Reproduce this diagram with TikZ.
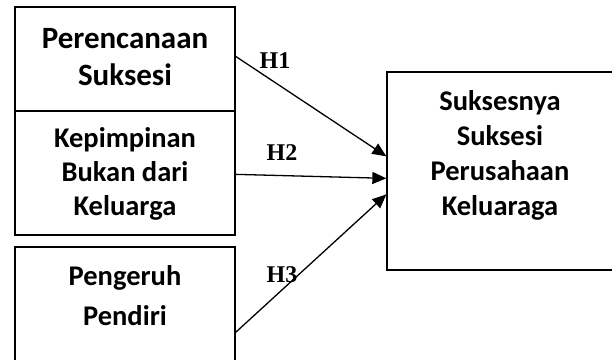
\documentclass[tikz,border=0pt]{standalone}
\usepackage{fontspec}
\setmainfont{Carlito}
\newfontfamily\tnr{Liberation Serif}
\usetikzlibrary{arrows.meta}
\begin{document}
\begin{tikzpicture}[x=1pt,y=-1pt,
  boxstyle/.style={draw=black,line width=1.3pt,minimum width=220pt,inner sep=0pt},
  bigtxt/.style={font=\fontsize{31}{37}\selectfont\bfseries,align=center,inner sep=0pt,anchor=base},
  midtxt/.style={font=\fontsize{28.5}{34}\selectfont\bfseries,align=center,inner sep=0pt,anchor=base},
  hlab/.style={font=\fontsize{24}{28}\selectfont\tnr\bfseries,inner sep=0pt,anchor=base},
  arr/.style={line width=1.3pt,-{Triangle[length=14pt,width=12pt]}}]
\clip (0,0) rectangle (612,359);
\node[boxstyle,minimum height=104pt] (b1) at (125,59) {};
\node[boxstyle,minimum height=124pt] (b2) at (125,173) {};
\node[boxstyle,minimum height=140pt] (b3) at (125,317) {};
\node[boxstyle,minimum width=253pt,minimum height=198pt] (rb) at (513.5,171) {};
\node[bigtxt] (t1) at (125,85) {Perencanaan\\Suksesi};
\node[midtxt] (t2) at (125,215) {Kepimpinan\\Bukan dari\\Keluarga};
\node[midtxt,font=\fontsize{28.5}{40}\selectfont\bfseries] (t3) at (125,325) {Pengeruh\\Pendiri};
\node[midtxt,font=\fontsize{28.5}{35}\selectfont\bfseries] (t4) at (500,215) {Suksesnya\\Suksesi\\Perusahaan\\Keluaraga};
\draw[arr] ([yshift=-50pt]b1.north east) -- ([yshift=-85pt]rb.north west);
\draw[arr] ([yshift=-64pt]b2.north east) -- ([yshift=-107pt]rb.north west);
\draw[arr] ([yshift=-86pt]b3.north east) -- ([yshift=-123pt]rb.north west);
\node[hlab] (h1) at (275,68) {H1};
\node[hlab] (h2) at (282,160) {H2};
\node[hlab] (h3) at (282,282) {H3};
\end{tikzpicture}
\end{document}
